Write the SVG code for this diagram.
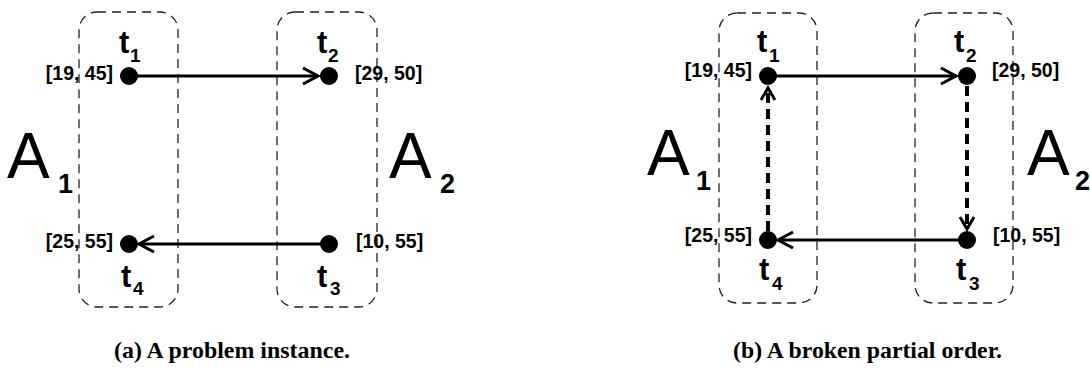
<svg xmlns="http://www.w3.org/2000/svg" width="1090" height="368" viewBox="0 0 1090 368">
<style>
.box{fill:none;stroke:#222;stroke-width:1.3;stroke-dasharray:9 6}
.node{fill:#000}
.edge{stroke:#000;stroke-width:3;fill:none}
.dedge{stroke:#000;stroke-width:4;fill:none;stroke-dasharray:10 6}
.tl{font-family:"Liberation Sans",Arial,sans-serif;font-weight:bold;font-size:31px;fill:#000}
.sub{font-family:"Liberation Sans",Arial,sans-serif;font-weight:bold;font-size:19px;fill:#000}
.iv{font-family:"Liberation Sans",Arial,sans-serif;font-weight:bold;font-size:19.5px;fill:#000}
.big{font-family:"Liberation Sans",Arial,sans-serif;font-size:64px;fill:#000}
.bsub{font-family:"Liberation Sans",Arial,sans-serif;font-weight:bold;font-size:27px;fill:#000}
.cap{font-family:"Liberation Serif","Times New Roman",serif;font-weight:bold;font-size:23px;fill:#000}
</style>
<defs>
<marker id="arr" markerUnits="userSpaceOnUse" markerWidth="20" markerHeight="20" refX="16" refY="9" orient="auto" viewBox="0 0 20 20">
<path d="M1,1 L16,9 L1,17" fill="none" stroke="#000" stroke-width="3"/>
</marker>
<marker id="arrs" markerUnits="userSpaceOnUse" markerWidth="18" markerHeight="18" refX="13" refY="8" orient="auto" viewBox="0 0 18 18">
<path d="M1,1 L13,8 L1,15" fill="none" stroke="#000" stroke-width="3"/>
</marker>
</defs>

<!-- Panel (a) -->
<g id="a-group1"><rect class="box" x="79" y="12" width="99" height="295" rx="18" ry="18"/></g>
<g id="a-group2"><rect class="box" x="277" y="12" width="100" height="295" rx="18" ry="18"/></g>
<g id="a-A1"><text class="big" x="7" y="178">A</text><text class="bsub" x="58" y="193">1</text></g>
<g id="a-A2"><text class="big" x="389" y="178">A</text><text class="bsub" x="440" y="193">2</text></g>

<g id="a-connectors">
<line class="edge" x1="129" y1="76" x2="318" y2="76" marker-end="url(#arr)"/>
<line class="edge" x1="329" y1="244" x2="139" y2="244" marker-end="url(#arr)"/>
</g>

<g id="a-t1"><circle class="node" cx="129" cy="76" r="9"/><text class="tl" x="119" y="53">t</text><text class="sub" x="130" y="62">1</text><text class="iv" x="113" y="80" text-anchor="end">[19, 45]</text></g>
<g id="a-t2"><circle class="node" cx="329" cy="76" r="9"/><text class="tl" x="317" y="53">t</text><text class="sub" x="328" y="62">2</text><text class="iv" x="355" y="80">[29, 50]</text></g>
<g id="a-t3"><circle class="node" cx="329" cy="244" r="9"/><text class="tl" x="317" y="287">t</text><text class="sub" x="330" y="295">3</text><text class="iv" x="356" y="248">[10, 55]</text></g>
<g id="a-t4"><circle class="node" cx="129" cy="244" r="9"/><text class="tl" x="121" y="287">t</text><text class="sub" x="133" y="295">4</text><text class="iv" x="113" y="248" text-anchor="end">[25, 55]</text></g>

<g id="a-caption"><text class="cap" x="114" y="358" textLength="236" lengthAdjust="spacingAndGlyphs">(a) A problem instance.</text></g>

<!-- Panel (b) -->
<g id="b-group1"><rect class="box" x="719" y="13" width="98" height="290" rx="18" ry="18"/></g>
<g id="b-group2"><rect class="box" x="915" y="13" width="98" height="290" rx="18" ry="18"/></g>
<g id="b-A1"><text class="big" x="647" y="175">A</text><text class="bsub" x="696" y="190">1</text></g>
<g id="b-A2"><text class="big" x="1027" y="175">A</text><text class="bsub" x="1075" y="190">2</text></g>

<g id="b-connectors">
<line class="edge" x1="768" y1="76" x2="956" y2="76" marker-end="url(#arr)"/>
<line class="edge" x1="967" y1="240" x2="778" y2="240" marker-end="url(#arr)"/>
<line class="dedge" x1="768" y1="231" x2="768" y2="88" marker-end="url(#arrs)"/>
<line class="dedge" x1="967" y1="86" x2="967" y2="229" marker-end="url(#arrs)"/>
</g>

<g id="b-t1"><circle class="node" cx="768" cy="76" r="9"/><text class="tl" x="757" y="52">t</text><text class="sub" x="769" y="62">1</text><text class="iv" x="752" y="77" text-anchor="end">[19, 45]</text></g>
<g id="b-t2"><circle class="node" cx="967" cy="76" r="9"/><text class="tl" x="954" y="52">t</text><text class="sub" x="966" y="62">2</text><text class="iv" x="992" y="77">[29, 50]</text></g>
<g id="b-t3"><circle class="node" cx="967" cy="240" r="9"/><text class="tl" x="956" y="280">t</text><text class="sub" x="969" y="290">3</text><text class="iv" x="993" y="242">[10, 55]</text></g>
<g id="b-t4"><circle class="node" cx="768" cy="240" r="9"/><text class="tl" x="759" y="280">t</text><text class="sub" x="772" y="290">4</text><text class="iv" x="752" y="242" text-anchor="end">[25, 55]</text></g>

<g id="b-caption"><text class="cap" x="733" y="358" textLength="269" lengthAdjust="spacingAndGlyphs">(b) A broken partial order.</text></g>
</svg>
